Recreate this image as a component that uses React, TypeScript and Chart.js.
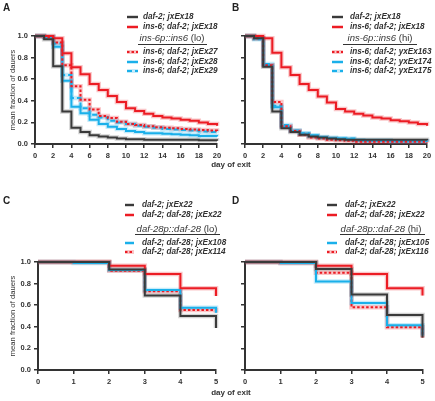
import React, { useEffect, useRef } from 'react';
import { Chart, registerables } from 'chart.js';
Chart.register(...registerables);

// ---------- data ----------
const DAYS_LONG = [0, 1, 2, 3, 4, 5, 6, 7, 8, 9, 10, 11, 12, 13, 14, 15, 16, 17, 18, 19, 20];
const DAYS_SHORT = [0, 1, 2, 3, 4, 5];
const X_TICKS_LONG_STEP = 2;
const X_TICKS_SHORT_STEP = 1;

// Panel A
const A_DAF2_JXEX18 = [1.0, 0.97, 0.72, 0.30, 0.15, 0.11, 0.08, 0.07, 0.06, 0.05, 0.045, 0.045, 0.04, 0.04, 0.04, 0.04, 0.04, 0.04, 0.035, 0.035, 0.03];
const A_INS6_JXEX18 = [1.0, 1.0, 0.98, 0.84, 0.71, 0.645, 0.555, 0.50, 0.445, 0.39, 0.33, 0.305, 0.28, 0.26, 0.245, 0.235, 0.225, 0.215, 0.20, 0.185, 0.17];
const A_INS6_JXEX27 = [1.0, 0.99, 0.94, 0.73, 0.535, 0.41, 0.32, 0.26, 0.24, 0.205, 0.185, 0.175, 0.165, 0.155, 0.15, 0.145, 0.14, 0.135, 0.13, 0.125, 0.12];
const A_INS6_JXEX28 = [1.0, 0.99, 0.90, 0.585, 0.345, 0.285, 0.225, 0.185, 0.16, 0.14, 0.12, 0.11, 0.10, 0.10, 0.095, 0.09, 0.085, 0.08, 0.075, 0.075, 0.07];
const A_INS6_JXEX29 = [1.0, 0.99, 0.93, 0.64, 0.425, 0.33, 0.27, 0.245, 0.215, 0.20, 0.185, 0.17, 0.16, 0.15, 0.14, 0.135, 0.13, 0.125, 0.115, 0.11, 0.105];

// Panel B
const B_DAF2_JXEX18 = [1.0, 0.98, 0.715, 0.30, 0.145, 0.11, 0.085, 0.07, 0.06, 0.05, 0.045, 0.04, 0.04, 0.04, 0.04, 0.04, 0.04, 0.04, 0.04, 0.04, 0.035];
const B_INS6_JXEX18 = [1.0, 1.0, 0.98, 0.845, 0.71, 0.64, 0.555, 0.50, 0.44, 0.385, 0.325, 0.30, 0.28, 0.265, 0.245, 0.235, 0.22, 0.21, 0.20, 0.185, 0.17];
const B_INS6_YXEX163 = [1.0, 0.98, 0.73, 0.39, 0.165, 0.12, 0.085, 0.06, 0.05, 0.04, 0.035, 0.03, 0.02, 0.02, 0.02, 0.02, 0.02, 0.02, 0.02, 0.02, 0.015];
const B_INS6_YXEX174 = [1.0, 0.98, 0.73, 0.34, 0.16, 0.12, 0.095, 0.08, 0.065, 0.055, 0.05, 0.045, 0.035, 0.03, 0.03, 0.03, 0.025, 0.025, 0.025, 0.025, 0.02];
const B_INS6_YXEX175 = [1.0, 0.97, 0.74, 0.355, 0.175, 0.125, 0.10, 0.075, 0.06, 0.055, 0.05, 0.05, 0.035, 0.03, 0.03, 0.03, 0.025, 0.025, 0.025, 0.025, 0.02];

// Panel C
const C_DAF2_JXEX22 = [1.0, 1.0, 0.93, 0.69, 0.50, 0.39];
const C_DAF28_JXEX22 = [1.0, 1.0, 0.965, 0.89, 0.756, 0.685];
const C_DAF28_JXEX108 = [1.0, 0.99, 0.925, 0.74, 0.577, 0.53];
const C_DAF28_JXEX114 = [1.0, 1.0, 0.92, 0.73, 0.555, 0.53];

// Panel D
const D_DAF2_JXEX22 = [1.0, 1.0, 0.935, 0.70, 0.51, 0.30];
const D_DAF28_JXEX22 = [1.0, 1.0, 0.965, 0.89, 0.756, 0.69];
const D_DAF28_JXEX105 = [1.0, 0.99, 0.82, 0.62, 0.415, 0.32];
const D_DAF28_JXEX116 = [1.0, 0.99, 0.90, 0.58, 0.395, 0.30];

// ---------- styles ----------
const BLACK = '#3a3a3a';
const RED = '#ec1c24';
const BLUE = '#1ab0ea';
const HALO: Record<string, string> = {
  [BLACK]: 'rgba(58,58,58,0.22)',
  [RED]: 'rgba(236,28,36,0.25)',
  [BLUE]: 'rgba(26,176,234,0.25)',
};
const SOLID: number[] = [];
const DOTTED = [2.5, 2];
const DASHED = [5, 3];
const AXIS = '#333333';
const FONT = '"Liberation Sans", Arial, sans-serif';

type Series = { label: string; data: number[]; color: string; dash: number[] };

const SERIES_A: Series[] = [
  { label: 'daf-2; jxEx18', data: A_DAF2_JXEX18, color: BLACK, dash: SOLID },
  { label: 'ins-6; daf-2; jxEx18', data: A_INS6_JXEX18, color: RED, dash: SOLID },
  { label: 'ins-6; daf-2; jxEx27', data: A_INS6_JXEX27, color: RED, dash: DOTTED },
  { label: 'ins-6; daf-2; jxEx28', data: A_INS6_JXEX28, color: BLUE, dash: SOLID },
  { label: 'ins-6; daf-2; jxEx29', data: A_INS6_JXEX29, color: BLUE, dash: DASHED },
];
const SERIES_B: Series[] = [
  { label: 'daf-2; jxEx18', data: B_DAF2_JXEX18, color: BLACK, dash: SOLID },
  { label: 'ins-6; daf-2; jxEx18', data: B_INS6_JXEX18, color: RED, dash: SOLID },
  { label: 'ins-6; daf-2; yxEx163', data: B_INS6_YXEX163, color: RED, dash: DOTTED },
  { label: 'ins-6; daf-2; yxEx174', data: B_INS6_YXEX174, color: BLUE, dash: SOLID },
  { label: 'ins-6; daf-2; yxEx175', data: B_INS6_YXEX175, color: BLUE, dash: DASHED },
];
const SERIES_C: Series[] = [
  { label: 'daf-2; jxEx22', data: C_DAF2_JXEX22, color: BLACK, dash: SOLID },
  { label: 'daf-2; daf-28; jxEx22', data: C_DAF28_JXEX22, color: RED, dash: SOLID },
  { label: 'daf-2; daf-28; jxEx108', data: C_DAF28_JXEX108, color: BLUE, dash: SOLID },
  { label: 'daf-2; daf-28; jxEx114', data: C_DAF28_JXEX114, color: RED, dash: DOTTED },
];
const SERIES_D: Series[] = [
  { label: 'daf-2; jxEx22', data: D_DAF2_JXEX22, color: BLACK, dash: SOLID },
  { label: 'daf-2; daf-28; jxEx22', data: D_DAF28_JXEX22, color: RED, dash: SOLID },
  { label: 'daf-2; daf-28; jxEx105', data: D_DAF28_JXEX105, color: BLUE, dash: SOLID },
  { label: 'daf-2; daf-28; jxEx116', data: D_DAF28_JXEX116, color: RED, dash: DOTTED },
];

type Box = { left: number; top: number; w: number; h: number };
type Plot = { left: number; top: number; right: number; bottom: number };

const X_AXIS_H = 20;

function Panel(props: {
  box: Box; plot: Plot; days: number[]; xStep: number; series: Series[]; yTitle: boolean; yLabels: boolean;
}) {
  const ref = useRef<HTMLCanvasElement>(null);
  const { box, plot, days, xStep, series, yTitle, yLabels } = props;
  useEffect(() => {
    const canvas = ref.current;
    if (!canvas) return;
    const halos = series.map((s) => ({
      data: days.map((d, i) => ({ x: d, y: s.data[i] })),
      borderColor: HALO[s.color],
      borderWidth: 4.5,
      stepped: 'before' as const,
      pointRadius: 0,
      fill: false,
      clip: 6,
      order: 2,
    }));
    const mains = series.map((s) => ({
      label: s.label,
      data: days.map((d, i) => ({ x: d, y: s.data[i] })),
      borderColor: s.color,
      borderWidth: 2,
      borderDash: s.dash,
      borderCapStyle: 'butt' as const,
      stepped: 'before' as const,
      pointRadius: 0,
      fill: false,
      clip: 6,
      order: 1,
    }));
    const yW = plot.left - box.left;
    const chart = new Chart(canvas, {
      type: 'line',
      data: { datasets: [...mains, ...halos] as any },
      options: {
        animation: false,
        responsive: false,
        devicePixelRatio: 1,
        layout: {
          padding: {
            left: 0,
            top: plot.top - box.top,
            right: box.left + box.w - plot.right,
            bottom: box.top + box.h - plot.bottom - X_AXIS_H,
          },
        },
        plugins: { legend: { display: false }, tooltip: { enabled: false }, title: { display: false } },
        scales: {
          x: {
            type: 'linear',
            min: days[0],
            max: days[days.length - 1],
            afterFit: (s: any) => { s.height = X_AXIS_H; },
            border: { display: true, color: AXIS, width: 2 },
            grid: { drawOnChartArea: false, drawTicks: true, tickLength: 4, color: AXIS, lineWidth: 1.5 },
            ticks: {
              stepSize: xStep,
              color: AXIS,
              padding: 3,
              maxRotation: 0,
              autoSkip: false,
              font: { family: FONT, size: 7.5, weight: 'bold' },
            },
          },
          y: {
            type: 'linear',
            min: 0,
            max: 1,
            afterFit: (s: any) => { s.width = yW; },
            border: { display: true, color: AXIS, width: 2 },
            grid: { drawOnChartArea: false, drawTicks: true, tickLength: 4, color: AXIS, lineWidth: 1.5 },
            title: {
              display: yTitle,
              text: 'mean fraction of dauers',
              color: AXIS,
              padding: { top: 8, bottom: 0 },
              font: { family: FONT, size: 7.7 },
            },
            ticks: {
              stepSize: 0.2,
              color: AXIS,
              padding: 3,
              font: { family: FONT, size: 7.5, weight: 'bold' },
              callback: (v: any) => (yLabels ? Number(v).toFixed(1) : ''),
            },
          },
        },
      },
    });
    return () => chart.destroy();
  }, []);
  return (
    <canvas
      ref={ref}
      width={box.w}
      height={box.h}
      style={{ position: 'absolute', left: box.left, top: box.top, width: box.w, height: box.h }}
    />
  );
}

function Sample({ x, y, w, s }: { x: number; y: number; w: number; s: Series }) {
  return (
    <svg style={{ position: 'absolute', left: x, top: y - 3 }} width={w} height={6}>
      <line x1={0} y1={3} x2={w} y2={3} stroke={HALO[s.color]} strokeWidth={4} />
      <line x1={0} y1={3} x2={w} y2={3} stroke={s.color} strokeWidth={2} strokeDasharray={s.dash.length ? s.dash.join(',') : undefined} />
    </svg>
  );
}

const ITEM_FONT = `italic bold 8.2px ${FONT}`;

function Legend(props: {
  series: Series[]; sampleX: number; sampleW: number; textX: number; ys: number[];
  header: string; suffix: string; headerX: number; headerY: number; ulX1: number; ulX2: number; ulY: number;
}) {
  const { series, sampleX, sampleW, textX, ys, header, suffix, headerX, headerY, ulX1, ulX2, ulY } = props;
  return (
    <>
      {series.map((s, i) => (
        <React.Fragment key={i}>
          <Sample x={sampleX} y={ys[i]} w={sampleW} s={s} />
          <div style={{ position: 'absolute', left: textX, top: ys[i] - 5, font: ITEM_FONT, lineHeight: '10px', color: '#333', whiteSpace: 'nowrap' }}>
            {s.label}
          </div>
        </React.Fragment>
      ))}
      <div style={{ position: 'absolute', left: headerX, top: headerY - 6, transform: 'translateX(-50%)', font: `9.5px ${FONT}`, lineHeight: '12px', color: '#333', whiteSpace: 'nowrap' }}>
        <i>{header}</i>{suffix}
      </div>
      <div style={{ position: 'absolute', left: ulX1, top: ulY, width: ulX2 - ulX1, height: 0, borderTop: '1px solid #333' }} />
    </>
  );
}

const LETTER_STYLE: React.CSSProperties = { position: 'absolute', font: `bold 10px ${FONT}`, lineHeight: '12px', color: '#222' };
const XTITLE_STYLE: React.CSSProperties = { position: 'absolute', font: `bold 8px ${FONT}`, lineHeight: '10px', color: '#333', transform: 'translateX(-50%)', whiteSpace: 'nowrap' };

export default function App() {
  return (
    <div style={{ position: 'absolute', left: 0, top: 0, width: 435, height: 401, background: '#fff', overflow: 'hidden' }}>
      <Panel box={{ left: 0, top: 0, w: 225, h: 200 }} plot={{ left: 35, top: 36, right: 217, bottom: 144 }} days={DAYS_LONG} xStep={X_TICKS_LONG_STEP} series={SERIES_A} yTitle yLabels />
      <Panel box={{ left: 220, top: 0, w: 215, h: 200 }} plot={{ left: 245, top: 36, right: 427, bottom: 144 }} days={DAYS_LONG} xStep={X_TICKS_LONG_STEP} series={SERIES_B} yTitle={false} yLabels={false} />
      <Panel box={{ left: 0, top: 200, w: 225, h: 201 }} plot={{ left: 38, top: 262, right: 216, bottom: 370 }} days={DAYS_SHORT} xStep={X_TICKS_SHORT_STEP} series={SERIES_C} yTitle yLabels />
      <Panel box={{ left: 220, top: 200, w: 215, h: 201 }} plot={{ left: 245, top: 262, right: 422.5, bottom: 370 }} days={DAYS_SHORT} xStep={X_TICKS_SHORT_STEP} series={SERIES_D} yTitle={false} yLabels={false} />

      <div style={{ ...LETTER_STYLE, left: 3, top: 2 }}>A</div>
      <div style={{ ...LETTER_STYLE, left: 232, top: 2 }}>B</div>
      <div style={{ ...LETTER_STYLE, left: 3, top: 195 }}>C</div>
      <div style={{ ...LETTER_STYLE, left: 232, top: 195 }}>D</div>

      <div style={{ ...XTITLE_STYLE, left: 231, top: 160 }}>day of exit</div>
      <div style={{ ...XTITLE_STYLE, left: 231, top: 388 }}>day of exit</div>

      <Legend series={SERIES_A} sampleX={127} sampleW={11} textX={143} ys={[17, 27, 52, 62, 71]}
        header="ins-6p::ins6" suffix=" (lo)" headerX={172} headerY={38} ulX1={138} ulX2={207} ulY={44} />
      <Legend series={SERIES_B} sampleX={332} sampleW={11} textX={350} ys={[17, 27, 52, 62, 71]}
        header="ins-6p::ins6" suffix=" (hi)" headerX={380} headerY={38} ulX1={343} ulX2={417} ulY={44} />
      <Legend series={SERIES_C} sampleX={125} sampleW={9} textX={142} ys={[205, 215, 243, 252]}
        header="daf-28p::daf-28" suffix=" (lo)" headerX={177} headerY={229} ulX1={135} ulX2={220} ulY={234} />
      <Legend series={SERIES_D} sampleX={327} sampleW={10} textX={345} ys={[205, 215, 243, 252]}
        header="daf-28p::daf-28" suffix=" (hi)" headerX={381} headerY={229} ulX1={340} ulX2={425} ulY={234} />
    </div>
  );
}
